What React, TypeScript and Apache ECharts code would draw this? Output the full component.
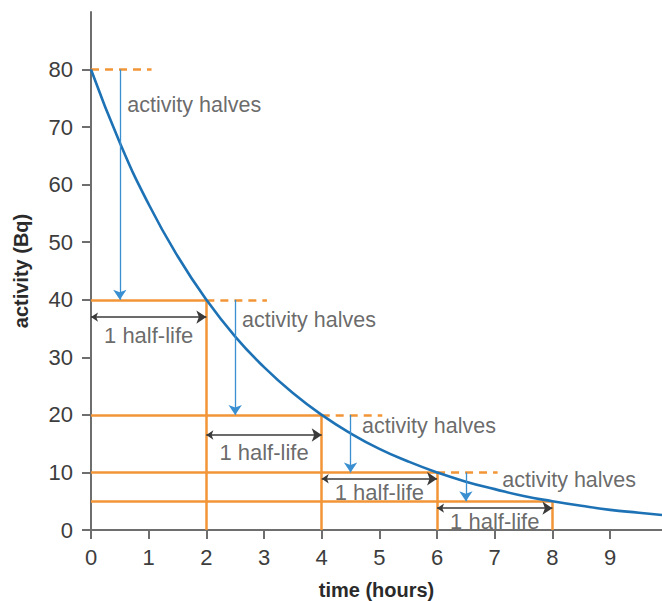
import React, { useEffect, useRef } from "react";
import * as echarts from "echarts";

// Decay curve (time in hours, activity in Bq)
const curveTimes = [0, 0.5, 1, 1.5, 2, 2.5, 3, 3.5, 4, 4.5, 5, 5.5, 6, 6.5, 7, 7.5, 8, 8.5, 9, 9.5, 9.9];
const curveActivity = [80, 67.3, 56.6, 47.6, 40, 33.6, 28.3, 23.8, 20, 16.8, 14.1, 11.9, 10, 8.4, 7.1, 5.9, 5, 4.2, 3.5, 3.0, 2.6];

// Half-life steps
const halfLifeTimes = [0, 2, 4, 6, 8];
const halfLifeLevels = [80, 40, 20, 10, 5];
const dashEnds = [1.05, 3.05, 5.05, 7.05];

// "activity halves" arrows (x positions) and labels
const halvesArrowX = [0.5, 2.5, 4.5, 6.5];
const halvesLabelX = [0.63, 2.62, 4.7, 7.13];
const halvesLabelY = [73.8, 36.5, 18.1, 8.7];
const halvesText = ["activity halves", "activity halves", "activity halves", "activity halves"];

// "1 half-life" arrows (y positions) and labels
const halfLifeArrowY = [37, 16.5, 8.9, 3.8];
const halfLifeLabelX = [1, 3, 5, 7];
const halfLifeLabelY = [33.8, 13.5, 6.6, 1.4];
const halfLifeText = ["1 half-life", "1 half-life", "1 half-life", "1 half-life"];

// Axis ticks
const xTicks = [0, 1, 2, 3, 4, 5, 6, 7, 8, 9];
const yTicks = [0, 10, 20, 30, 40, 50, 60, 70, 80];

const ORANGE = "#f29536";
const CURVE = "#1d72b5";
const ARROW_BLUE = "#3a8fd1";
const DARK = "#3d3d3d";
const FONT = "'Liberation Sans', Arial, sans-serif";
const NAME_FONT = "'Liberation Sans Narrow', 'Liberation Sans', Arial, sans-serif";

export default function App() {
  const ref = useRef<HTMLDivElement>(null);
  useEffect(() => {
    document.body.style.margin = "0";
    if (!ref.current) return;
    const chart = echarts.init(ref.current, null, { renderer: "svg" });

    const orangeSolid: any[] = [];
    for (let i = 1; i < halfLifeTimes.length; i++) {
      orangeSolid.push({ coords: [[0, halfLifeLevels[i]], [halfLifeTimes[i], halfLifeLevels[i]]] });
      orangeSolid.push({ coords: [[halfLifeTimes[i], 0], [halfLifeTimes[i], halfLifeLevels[i]]] });
    }
    const orangeDashed: any[] = [];
    for (let i = 0; i < dashEnds.length; i++) {
      orangeDashed.push({ coords: [[halfLifeTimes[i], halfLifeLevels[i]], [dashEnds[i], halfLifeLevels[i]]] });
    }
    const blueArrows = halvesArrowX.map((x, i) => ({
      coords: [[x, halfLifeLevels[i]], [x, halfLifeLevels[i + 1]]],
    }));
    const blackArrows = halfLifeArrowY.map((y, i) => ({
      coords: [[halfLifeTimes[i], y], [halfLifeTimes[i + 1], y]],
    }));

    chart.setOption({
      animation: false,
      grid: { left: 91, right: 0, top: 12, bottom: 71, containLabel: false, outerBoundsMode: "none" },
      xAxis: {
        type: "value",
        min: 0,
        max: 9.9,
        name: "time (hours)",
        nameLocation: "middle",
        nameGap: 50,
        nameTextStyle: { fontFamily: NAME_FONT, fontWeight: "bold", fontSize: 20, color: "#2a2a2a" },
        axisLine: { show: true, lineStyle: { color: "#6e6e6e", width: 2 } },
        axisTick: { show: true, length: 9, customValues: xTicks, lineStyle: { color: "#6e6e6e", width: 2 } },
        axisLabel: { customValues: xTicks, margin: 16, fontSize: 22, color: DARK, fontFamily: FONT },
        splitLine: { show: false },
      },
      yAxis: {
        type: "value",
        min: 0,
        max: 90,
        name: "activity (Bq)",
        nameLocation: "middle",
        nameGap: 60,
        nameTextStyle: { fontFamily: NAME_FONT, fontWeight: "bold", fontSize: 20, color: "#2a2a2a" },
        axisLine: { show: true, lineStyle: { color: "#6e6e6e", width: 2 } },
        axisTick: { show: true, length: 9, customValues: yTicks, lineStyle: { color: "#6e6e6e", width: 2 } },
        axisLabel: { customValues: yTicks, margin: 18, fontSize: 22, color: DARK, fontFamily: FONT },
        splitLine: { show: false },
      },
      series: [
        {
          type: "lines",
          coordinateSystem: "cartesian2d",
          z: 2,
          symbol: "none",
          lineStyle: { color: ORANGE, width: 2.5, opacity: 1 },
          data: orangeSolid,
        },
        {
          type: "lines",
          coordinateSystem: "cartesian2d",
          z: 2,
          symbol: "none",
          lineStyle: { color: ORANGE, width: 2.5, type: [8, 6], opacity: 1 },
          data: orangeDashed,
        },
        {
          type: "line",
          z: 3,
          data: curveTimes.map((t, i) => [t, curveActivity[i]]),
          smooth: true,
          showSymbol: false,
          lineStyle: { color: CURVE, width: 2.6 },
        },
        {
          type: "lines",
          coordinateSystem: "cartesian2d",
          z: 4,
          symbol: ["none", "arrow"],
          symbolSize: [7, 10],
          lineStyle: { color: ARROW_BLUE, width: 1.3, opacity: 1 },
          data: blueArrows,
        },
        {
          type: "lines",
          coordinateSystem: "cartesian2d",
          z: 4,
          symbol: ["arrow", "arrow"],
          symbolSize: [7, 10],
          lineStyle: { color: "#3a3a3a", width: 1.5, opacity: 1 },
          data: blackArrows,
        },
        {
          type: "scatter",
          z: 5,
          symbolSize: 0,
          silent: true,
          data: halvesLabelX.map((x, i) => [x, halvesLabelY[i], halvesText[i]]),
          label: {
            show: true,
            position: "inside",
            align: "left",
            verticalAlign: "middle",
            formatter: (p: any) => p.value[2],
            fontSize: 21.5,
            color: "#444",
            fontFamily: FONT,
          },
        },
        {
          type: "scatter",
          z: 5,
          symbolSize: 0,
          silent: true,
          data: halfLifeLabelX.map((x, i) => [x, halfLifeLabelY[i], halfLifeText[i]]),
          label: {
            show: true,
            position: "inside",
            align: "center",
            verticalAlign: "middle",
            formatter: (p: any) => p.value[2],
            fontSize: 22,
            color: "#444",
            fontFamily: FONT,
          },
        },
      ],
    });
    return () => chart.dispose();
  }, []);
  return <div ref={ref} style={{ width: 662, height: 601 }} />;
}
